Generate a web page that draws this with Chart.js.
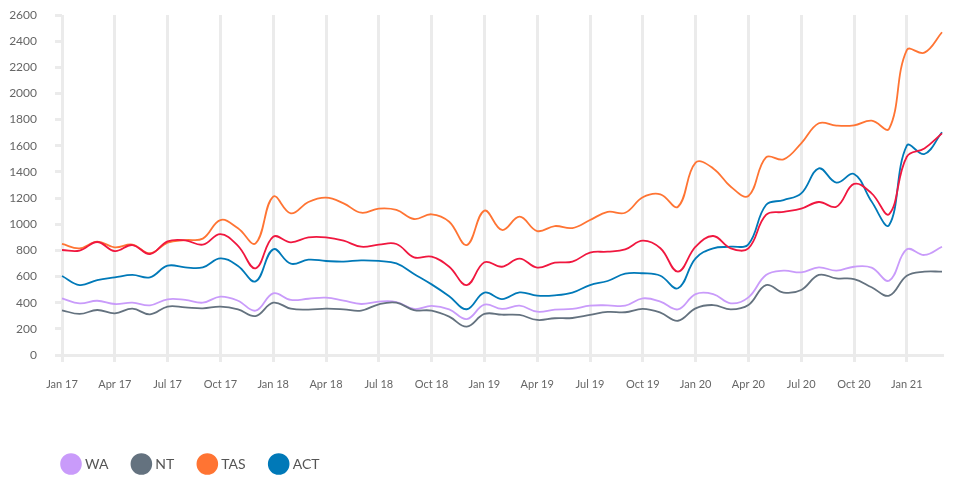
<!DOCTYPE html>
<html>
<head>
<meta charset="utf-8">
<script src="https://cdn.jsdelivr.net/npm/chart.js@4/dist/chart.umd.min.js"></script>
<style>
  html, body { margin: 0; padding: 0; background: #fff; }
  #wrap { width: 960px; height: 489px; }
</style>
</head>
<body>
<div id="wrap"><canvas id="c"></canvas></div>
<script>
const categories = [
  'Jan 17','Feb 17','Mar 17','Apr 17','May 17','Jun 17','Jul 17','Aug 17','Sep 17','Oct 17','Nov 17','Dec 17',
  'Jan 18','Feb 18','Mar 18','Apr 18','May 18','Jun 18','Jul 18','Aug 18','Sep 18','Oct 18','Nov 18','Dec 18',
  'Jan 19','Feb 19','Mar 19','Apr 19','May 19','Jun 19','Jul 19','Aug 19','Sep 19','Oct 19','Nov 19','Dec 19',
  'Jan 20','Feb 20','Mar 20','Apr 20','May 20','Jun 20','Jul 20','Aug 20','Sep 20','Oct 20','Nov 20','Dec 20',
  'Jan 21','Feb 21','Mar 21'
];
const WA  = [433,395,415,390,400,380,426,421,400,446,415,339,472,421,430,438,415,390,408,405,352,375,349,275,385,352,377,331,347,352,377,380,377,433,408,349,466,466,395,441,612,645,632,670,645,675,668,569,808,765,828];
const NT  = [342,314,344,319,354,311,370,364,357,370,349,298,400,354,347,354,349,339,388,400,344,339,293,217,314,308,306,268,281,283,306,329,327,352,324,262,357,382,349,382,535,477,497,612,586,581,518,454,606,637,637];
const TAS = [849,816,867,823,844,778,859,879,890,1032,969,854,1211,1083,1170,1203,1160,1088,1119,1109,1040,1076,1019,841,1104,956,1058,948,986,971,1032,1094,1088,1206,1229,1134,1471,1427,1287,1216,1511,1496,1619,1772,1754,1756,1792,1731,2332,2312,2468];
const ACT = [604,535,573,594,612,594,683,670,670,739,681,563,808,698,729,719,714,724,719,700,620,540,450,350,477,428,479,454,456,477,535,566,622,625,606,510,739,816,828,846,1147,1185,1236,1427,1318,1384,1173,994,1601,1537,1703];
const SA  = [803,798,864,795,841,772,869,877,844,925,834,663,905,862,900,900,874,828,844,849,747,752,675,535,709,675,737,668,706,714,783,790,808,874,816,637,828,910,816,816,1071,1094,1119,1170,1134,1308,1236,1078,1516,1580,1695];
const yTicks = { min: 0, max: 2600, step: 200 };

const colors = { WA: '#C99BFA', NT: '#64727F', TAS: '#FF7433', ACT: '#0079B8', SA: '#F0173F' };

function ds(label, data, color, inLegend) {
  return {
    label, data,
    borderColor: color, backgroundColor: color,
    borderWidth: 1.8, pointRadius: 0, pointHoverRadius: 0,
    tension: 0.4, fill: false, inLegend
  };
}

const legendShift = {
  id: 'legendShift',
  afterLayout(chart) {
    const lg = chart.legend;
    if (lg) { lg.left += 38; lg.right += 38; lg.top -= 8; lg.bottom -= 8; }
  }
};

new Chart(document.getElementById('c'), {
  type: 'line',
  data: {
    labels: categories,
    datasets: [
      ds('SA', SA, colors.SA, false),
      ds('ACT', ACT, colors.ACT, true),
      ds('TAS', TAS, colors.TAS, true),
      ds('NT', NT, colors.NT, true),
      ds('WA', WA, colors.WA, true)
    ]
  },
  plugins: [legendShift],
  options: {
    responsive: true,
    maintainAspectRatio: false,
    animation: false,
    layout: { padding: { left: 0, right: 18, top: 15, bottom: 0 } },
    plugins: {
      tooltip: { enabled: false },
      legend: {
        position: 'bottom',
        align: 'start',
        reverse: true,
        labels: {
          usePointStyle: true,
          pointStyle: 'circle',
          padding: 26,
          color: '#555',
          font: { family: 'Lato', size: 14 },
          filter: (item, data) => data.datasets[item.datasetIndex].inLegend
        }
      }
    },
    scales: {
      x: {
        offset: false,
        grid: {
          color: c => (c.index % 3 === 0 ? '#ebebeb' : 'rgba(0,0,0,0)'),
          tickColor: c => (c.index % 3 === 0 ? '#ebebeb' : 'rgba(0,0,0,0)'),
          lineWidth: 3,
          tickLength: 7,
          drawOnChartArea: true
        },
        border: { display: true, color: '#ebebeb', width: 3 },
        ticks: {
          autoSkip: false,
          maxRotation: 0,
          padding: 16,
          color: '#666',
          font: { family: 'Lato', size: 11 },
          callback: function (v, i) { return i % 3 === 0 ? categories[i] : ''; }
        },
        afterFit: s => { s.height = 84; s.paddingLeft = 0; s.paddingRight = 0; }
      },
      y: {
        min: yTicks.min, max: yTicks.max,
        grid: { drawOnChartArea: false, color: '#ebebeb', lineWidth: 3, tickLength: 7 },
        border: { display: false },
        ticks: {
          stepSize: yTicks.step,
          padding: 18,
          color: '#666',
          font: { family: 'Lato', size: 12 },
          callback: v => String(v)
        },
        afterFit: s => { s.width = 62; s.paddingTop = 0; s.paddingBottom = 0; }
      }
    }
  }
});
</script>
</body>
</html>
